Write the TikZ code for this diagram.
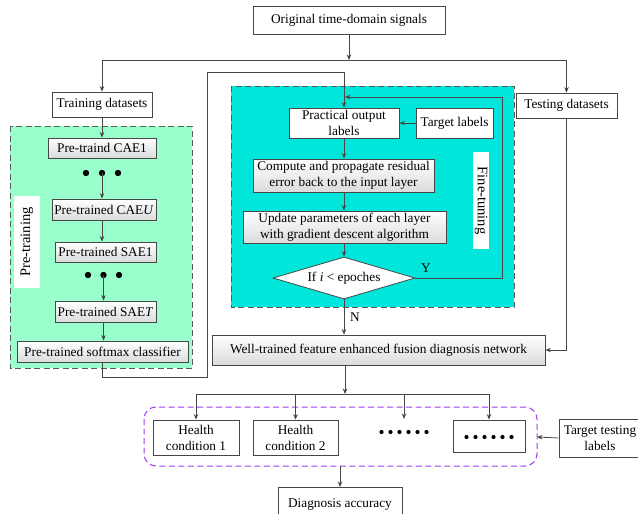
\documentclass[tikz,border=0pt]{standalone}
\usepackage{fontspec}
\setmainfont{Liberation Serif}
\usetikzlibrary{shapes.geometric,arrows.meta,calc}
\definecolor{pgreen}{RGB}{153,255,204}
\definecolor{fcyan}{RGB}{0,230,218}
\definecolor{ppurple}{RGB}{160,60,240}
\definecolor{lnc}{RGB}{70,70,70}
\tikzset{
  box/.style={draw=lnc,fill=white,line width=0.8pt,inner sep=1pt,align=center,
    font=\fontsize{13.3}{16}\selectfont},
  gbox/.style={box,top color=white,bottom color=gray!28},
  arr/.style={draw=lnc,line width=0.8pt,-{Stealth[length=5.5pt,width=4.5pt]}},
  ln/.style={draw=lnc,line width=0.8pt},
  region/.style={draw=lnc!90,line width=1pt,dash pattern=on 6pt off 3.5pt},
  vlabel/.style={fill=white,inner sep=0pt,font=\fontsize{14.5}{16}\selectfont},
  lbl/.style={font=\fontsize{13.3}{14.5}\selectfont,inner sep=0pt}
}
\begin{document}
\begin{tikzpicture}[x=1pt,y=-1pt]
\useasboundingbox (0,0) rectangle (638,514);
% regions
\draw[region,fill=pgreen] (10,126) rectangle (192,368);
\draw[region,fill=fcyan] (231,86) rectangle (514,307);
% top
\node[box,minimum width=192,minimum height=28] (orig) at (349,20) {Original time-domain signals};
\node[box,minimum width=100,minimum height=25] (train) at (102,104.5) {Training datasets};
\node[box,minimum width=101,minimum height=25] (test) at (566.5,105.5) {Testing datasets};
\coordinate (split) at (349,60);
\draw[arr] (orig.south) -- (split);
\draw[ln] (train.north |- split) -- (test.north |- split);
\draw[arr] (train.north |- split) -- (train.north);
\draw[arr] (test.north |- split) -- (test.north);
% pre-training
\node[gbox,minimum width=108,minimum height=20] (cae1) at (102,148) {Pre-traind CAE1};
\node[gbox,minimum width=104,minimum height=21] (caeu) at (104,209.5) {Pre-trained CAE\textit{U}};
\node[gbox,minimum width=101,minimum height=20] (sae1) at (105.5,252) {Pre-trained SAE1};
\node[gbox,minimum width=101,minimum height=21] (saet) at (105.5,311.5) {Pre-trained SAE\textit{T}};
\node[gbox,minimum width=171,minimum height=21] (soft) at (102.5,351.5) {Pre-trained softmax classifier};
\foreach \x in {86,102,118} \fill (\x,173) circle (3.2);
\foreach \x in {88,103.5,119} \fill (\x,275) circle (3.2);
\coordinate (d1) at (102,173);
\coordinate (d2) at (103.5,275);
\draw[arr] (train.south) -- (cae1.north);
\draw[arr] (d1) -- (d1 |- caeu.north);
\draw[arr] (caeu.south -| d1) -- (sae1.north -| d1);
\draw[arr] (d2) -- (d2 |- saet.north);
\draw[arr] (saet.south -| d2) -- (soft.north -| d2);
\node[vlabel,rotate=90,minimum width=92,minimum height=26] (ptl) at (27,242) {Pre-training};
% fine-tuning
\node[box,minimum width=110,minimum height=30] (pol) at (344,123) {Practical output\\labels};
\node[box,minimum width=77,minimum height=30] (tl) at (454.5,123) {Target labels};
\node[gbox,minimum width=181,minimum height=33] (comp) at (343.5,175.5) {Compute and propagate residual\\error back to the input layer};
\node[gbox,minimum width=203,minimum height=32] (upd) at (344.5,227) {Update parameters of each layer\\with gradient descent algorithm};
\node[box,shape=diamond,aspect=3.4,minimum width=142,minimum height=42,inner sep=0pt] (dia) at (344,278) {If \textit{i} < epoches};
\node[vlabel,rotate=-90,minimum width=97,minimum height=16] (ftl) at (481,200.5) {Fine-tuning};
\draw[arr] (tl.west) -- (pol.east);
\draw[arr] (pol.south) -- (comp.north -| pol.south);
\draw[arr] (comp.south -| pol.south) -- (upd.north -| pol.south);
\draw[arr] (upd.south -| dia.north) -- (dia.north);
\draw[arr] (soft.south) -- (102.5,377) -- (207,377) -- (207,72) -- (344,72) -- (pol.north);
\draw[arr] (dia.east) -- (502,278) -- (502,97) -- (345,97);
\node[lbl] (ylab) at (426,268) {Y};
\node[lbl] (nlab) at (355,317) {N};
% well-trained
\node[gbox,minimum width=333,minimum height=30] (well) at (378.5,350) {Well-trained feature enhanced fusion diagnosis network};
\draw[arr] (dia.south) -- (dia.south |- well.north);
\draw[arr] (test.south) -- (test.south |- well.east) -- (well.east);
% outputs
\draw[region,draw=ppurple,rounded corners=12] (144,407) rectangle (537,466);
\coordinate (pe) at (537,437);
\coordinate (ps) at (340,466);
\node[box,minimum width=86,minimum height=35] (hc1) at (196,437.5) {Health\\condition 1};
\node[box,minimum width=85,minimum height=35] (hc2) at (295.5,437.5) {Health\\condition 2};
\coordinate (dots) at (404,419);
\foreach \i in {0,...,5} \fill (381.5+9*\i,432) circle (2.1);
\node[box,minimum width=72,minimum height=32] (last) at (489,436) {};
\foreach \i in {0,...,5} \fill (466.5+9*\i,437) circle (2.1);
\node[box,minimum width=82,minimum height=38] (ttl) at (600,438) {Target testing\\labels};
\node[box,minimum width=124,minimum height=34,anchor=north] (acc) at (340,487) {Diagnosis accuracy};
\coordinate (b0) at (345,394);
\draw[arr] (b0 |- well.south) -- (b0);
\draw[ln] (hc1.north |- b0) -- (last.north |- b0);
\draw[arr] (hc1.north |- b0) -- (hc1.north);
\draw[arr] (hc2.north |- b0) -- (hc2.north);
\draw[arr] (dots |- b0) -- (dots);
\draw[arr] (last.north |- b0) -- (last.north);
\draw[arr] (ttl.west) -- (pe);
\draw[arr] (ps) -- (acc.north);
\end{tikzpicture}
\end{document}
